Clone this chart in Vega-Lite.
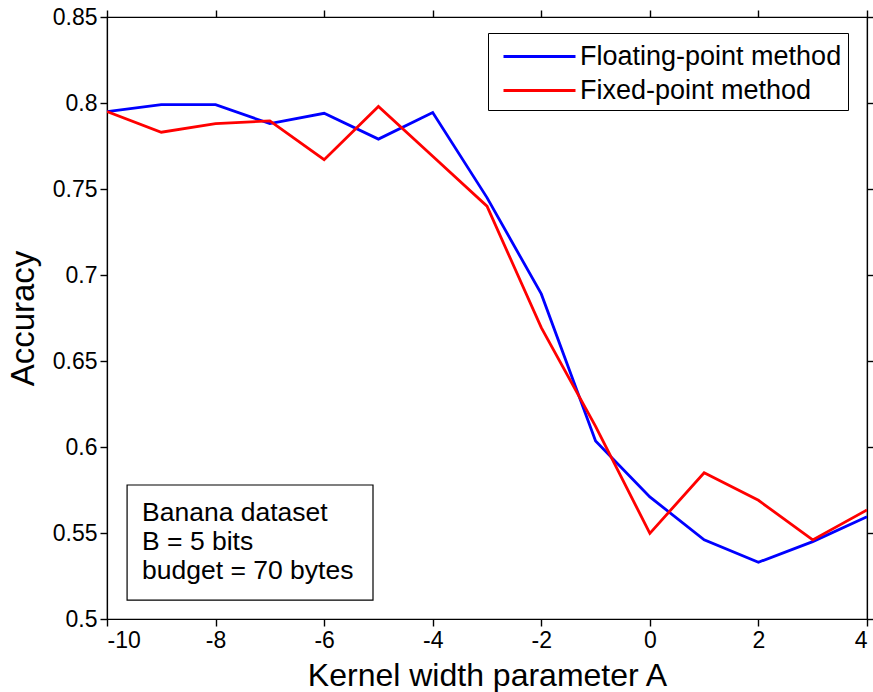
{
  "$schema": "https://vega.github.io/schema/vega-lite/v6.json",
  "width": 760,
  "height": 602,
  "autosize": {"type": "none"},
  "padding": {"left": 107, "top": 17, "right": 6, "bottom": 73},
  "background": "white",
  "config": {
    "font": "Liberation Sans",
    "view": {"stroke": "black", "strokeWidth": 1.2},
    "axis": {
      "grid": false,
      "domainColor": "black",
      "domainWidth": 1.2,
      "labelColor": "black",
      "labelFont": "Liberation Sans",
      "labelFontSize": 23,
      "titleFont": "Liberation Sans",
      "titleFontWeight": "normal",
      "titleColor": "black"
    }
  },
  "datasets": {
    "curves": [
      {"A": -10, "acc": 0.795, "method": "Floating-point method"},
      {"A": -9, "acc": 0.799, "method": "Floating-point method"},
      {"A": -8, "acc": 0.799, "method": "Floating-point method"},
      {"A": -7, "acc": 0.788, "method": "Floating-point method"},
      {"A": -6, "acc": 0.794, "method": "Floating-point method"},
      {"A": -5, "acc": 0.779, "method": "Floating-point method"},
      {"A": -4, "acc": 0.7945, "method": "Floating-point method"},
      {"A": -3, "acc": 0.745, "method": "Floating-point method"},
      {"A": -2, "acc": 0.689, "method": "Floating-point method"},
      {"A": -1, "acc": 0.6035, "method": "Floating-point method"},
      {"A": 0, "acc": 0.571, "method": "Floating-point method"},
      {"A": 1, "acc": 0.546, "method": "Floating-point method"},
      {"A": 2, "acc": 0.533, "method": "Floating-point method"},
      {"A": 3, "acc": 0.545, "method": "Floating-point method"},
      {"A": 4, "acc": 0.5595, "method": "Floating-point method"},
      {"A": -10, "acc": 0.795, "method": "Fixed-point method"},
      {"A": -9, "acc": 0.783, "method": "Fixed-point method"},
      {"A": -8, "acc": 0.788, "method": "Fixed-point method"},
      {"A": -7, "acc": 0.7896, "method": "Fixed-point method"},
      {"A": -6, "acc": 0.767, "method": "Fixed-point method"},
      {"A": -5, "acc": 0.798, "method": "Fixed-point method"},
      {"A": -4, "acc": 0.769, "method": "Fixed-point method"},
      {"A": -3, "acc": 0.740, "method": "Fixed-point method"},
      {"A": -2, "acc": 0.6694, "method": "Fixed-point method"},
      {"A": -1, "acc": 0.612, "method": "Fixed-point method"},
      {"A": 0, "acc": 0.5498, "method": "Fixed-point method"},
      {"A": 1, "acc": 0.585, "method": "Fixed-point method"},
      {"A": 2, "acc": 0.569, "method": "Fixed-point method"},
      {"A": 3, "acc": 0.546, "method": "Fixed-point method"},
      {"A": 4, "acc": 0.5634, "method": "Fixed-point method"}
    ],
    "box": [{"x1": -9.63, "x2": -5.10, "y1": 0.511, "y2": 0.5779}],
    "note": [
      {"tx": -9.355, "ty": 0.5616, "label": "Banana dataset"},
      {"tx": -9.355, "ty": 0.5448, "label": "B = 5 bits"},
      {"tx": -9.355, "ty": 0.5279, "label": "budget = 70 bytes"}
    ]
  },
  "layer": [
    {
      "data": {"name": "curves"},
      "mark": {"type": "line", "strokeWidth": 2.8, "clip": true},
      "encoding": {
        "x": {
          "field": "A", "type": "quantitative",
          "scale": {"domain": [-10, 4], "nice": false, "zero": false},
          "axis": {"orient": "bottom", "values": [-10, -8, -6, -4, -2, 0, 2, 4], "title": "Kernel width parameter A", "titleFontSize": 32, "ticks": true, "tickSize": 7, "tickColor": "black", "tickWidth": 1.4, "labelPadding": 3, "titlePadding": 8, "labelExpr": "'' + datum.value"}
        },
        "y": {
          "field": "acc", "type": "quantitative",
          "scale": {"domain": [0.5, 0.85], "nice": false, "zero": false},
          "axis": {"orient": "left", "values": [0.5, 0.55, 0.6, 0.65, 0.7, 0.75, 0.8, 0.85], "format": "~g", "title": "Accuracy", "titleFontSize": 33, "ticks": true, "tickSize": 7, "tickColor": "black", "tickWidth": 1.4, "labelPadding": 3, "titlePadding": 12}
        },
        "color": {
          "field": "method", "type": "nominal",
          "scale": {"domain": ["Floating-point method", "Fixed-point method"], "range": ["#0000ff", "#ff0000"]},
          "legend": {
            "title": null,
            "orient": "none",
            "legendX": 381,
            "legendY": 16,
            "direction": "vertical",
            "symbolType": "M-2.25,0H2.25",
            "symbolSize": 1024,
            "symbolStrokeWidth": 3,
            "symbolOffset": 28,
            "labelOffset": 23,
            "labelFont": "Liberation Sans",
            "labelFontSize": 27,
            "labelColor": "black",
            "labelLimit": 400,
            "rowPadding": 3,
            "padding": 6,
            "strokeColor": "black",
            "fillColor": "white"
          }
        },
        "order": {"field": "A", "type": "quantitative"}
      }
    },
    {
      "data": {"name": "box"},
      "mark": {"type": "rect", "fill": "white", "stroke": "black", "strokeWidth": 1.2},
      "encoding": {
        "x": {"field": "x1", "type": "quantitative", "axis": {"orient": "top", "values": [-10, -8, -6, -4, -2, 0, 2, 4], "labels": false, "title": null, "ticks": true, "tickSize": 7, "tickColor": "black", "tickWidth": 1.4}},
        "x2": {"field": "x2"},
        "y": {"field": "y1", "type": "quantitative", "axis": {"orient": "right", "values": [0.5, 0.55, 0.6, 0.65, 0.7, 0.75, 0.8, 0.85], "labels": false, "title": null, "ticks": true, "tickSize": 7, "tickColor": "black", "tickWidth": 1.4}},
        "y2": {"field": "y2"}
      }
    },
    {
      "data": {"name": "note"},
      "mark": {"type": "text", "align": "left", "baseline": "middle", "fontSize": 26.5, "font": "Liberation Sans", "color": "black"},
      "encoding": {
        "x": {"field": "tx", "type": "quantitative", "axis": null},
        "y": {"field": "ty", "type": "quantitative", "axis": null},
        "text": {"field": "label"}
      }
    }
  ],
  "resolve": {"axis": {"x": "independent", "y": "independent"}}
}
